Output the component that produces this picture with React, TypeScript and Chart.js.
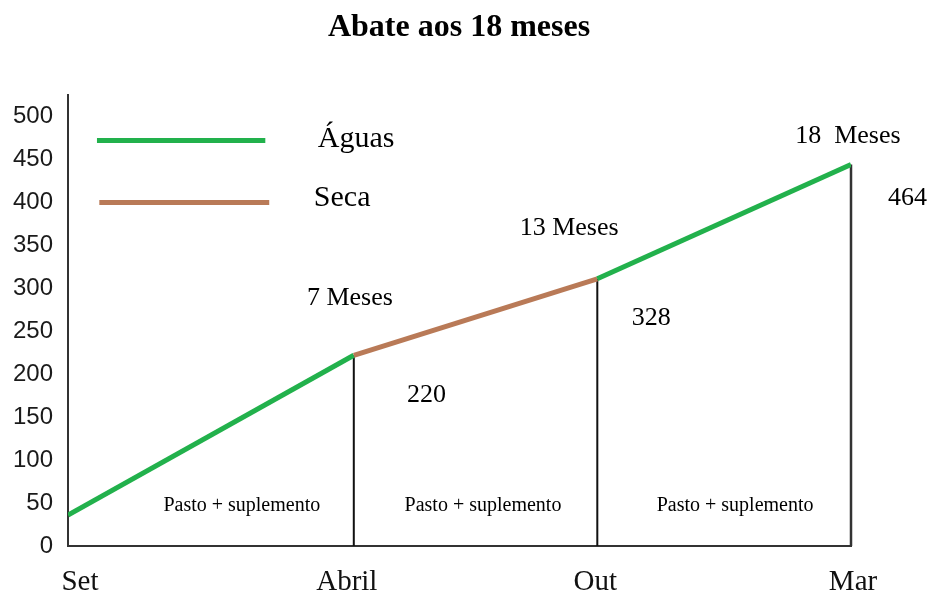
import React, { useEffect, useRef } from 'react';
import { Chart, registerables } from 'chart.js';

Chart.register(...registerables);

// ---- data ----
const categories = ['Set', 'Abril', 'Out', 'Mar'];
const xPositions = [0, 36.5, 67.6, 100]; // position of each month along the time axis
const weights = [36, 222, 311, 444];
const segmentSeasons = ['Águas', 'Seca', 'Águas'];
const yTicks = [0, 50, 100, 150, 200, 250, 300, 350, 400, 450, 500];
const seasonNames = ['Águas', 'Seca'];
const monthLabels = ['7 Meses', '13 Meses', '18  Meses'];
const weightLabels = ['220', '328', '464'];
const periodLabel = 'Pasto + suplemento';

// ---- styles / layout ----
const GREEN = '#22b14c';
const BROWN = '#b97a57';
const seasonColors: Record<string, string> = { 'Águas': GREEN, 'Seca': BROWN };
const SERIF = '"Liberation Serif", "Times New Roman", serif';
const SANS = '"Liberation Sans", Arial, sans-serif';
const TEXT_DY = 2; // visual centring nudge for serif text

// annotation anchors in data space
const monthLabelPos = [
  { x: 36.0, y: 291 },
  { x: 64.0, y: 372 },
  { x: 99.6, y: 479 },
];
const weightLabelPos = [
  { x: 45.8, y: 178 },
  { x: 74.5, y: 267 },
  { x: 107.2, y: 407 },
];
const periodLabelPos = [
  { x: 22.2, y: 49 },
  { x: 53.0, y: 49 },
  { x: 85.2, y: 49 },
];
const legendPos = [
  { x0: 3.7, x1: 25.2, y: 472, tx: 31.9, ty: 477, size: 30 },
  { x0: 4.0, x1: 25.7, y: 400, tx: 31.4, ty: 409, size: 30 },
];
const xLabelShift = [12, -7, -2, 2];

const annotationPlugin = {
  id: 'annotations',
  afterDatasetsDraw(chart: any) {
    const { ctx } = chart;
    const xs = chart.scales.x;
    const ys = chart.scales.y;
    const px = (v: number) => xs.getPixelForValue(v);
    const py = (v: number) => ys.getPixelForValue(v);
    ctx.save();
    ctx.fillStyle = '#000';
    // title
    ctx.font = `bold 32px ${SERIF}`;
    ctx.textAlign = 'center';
    ctx.textBaseline = 'middle';
    ctx.fillText('Abate aos 18 meses', 459, 28);

    ctx.font = `26px ${SERIF}`;
    monthLabels.forEach((t, i) => ctx.fillText(t, px(monthLabelPos[i].x), py(monthLabelPos[i].y) + TEXT_DY));
    weightLabels.forEach((t, i) => ctx.fillText(t, px(weightLabelPos[i].x), py(weightLabelPos[i].y) + TEXT_DY));
    ctx.font = `20px ${SERIF}`;
    periodLabelPos.forEach((p) => ctx.fillText(periodLabel, px(p.x), py(p.y) + TEXT_DY));

    // x category labels
    ctx.font = `29px ${SERIF}`;
    ctx.fillStyle = '#111';
    categories.forEach((c, i) => ctx.fillText(c, px(xPositions[i]) + xLabelShift[i], xs.top + 34 + TEXT_DY));
    ctx.fillStyle = '#000';

    // legend
    seasonNames.forEach((name, i) => {
      const l = legendPos[i];
      ctx.strokeStyle = seasonColors[name];
      ctx.lineWidth = 5;
      ctx.lineCap = 'butt';
      ctx.beginPath();
      ctx.moveTo(px(l.x0), py(l.y));
      ctx.lineTo(px(l.x1), py(l.y));
      ctx.stroke();
      ctx.font = `${l.size}px ${SERIF}`;
      ctx.textAlign = 'left';
      ctx.fillText(name, px(l.tx), py(l.ty) + 3);
    });
    ctx.restore();
  },
};

export default function App() {
  const ref = useRef<HTMLCanvasElement>(null);
  useEffect(() => {
    if (!ref.current) return;
    const points = xPositions.map((x, i) => ({ x, y: weights[i] }));
    const dropDatasets = xPositions.slice(1).map((x, k) => ({
      label: 'drop' + k,
      data: [
        { x, y: weights[k + 1] },
        { x, y: 0 },
      ],
      borderColor: k === xPositions.length - 2 ? '#333' : '#111',
      borderWidth: k === xPositions.length - 2 ? 2.5 : 2,
      pointRadius: 0,
      clip: false,
      order: 2,
    }));
    const chart = new Chart(ref.current, {
      type: 'line',
      data: {
        datasets: [
          {
            label: 'Peso',
            data: points,
            borderColor: GREEN,
            borderWidth: 5,
            pointRadius: 0,
            tension: 0,
            order: 1,
            segment: {
              borderColor: (c: any) => seasonColors[segmentSeasons[c.p0DataIndex]],
            },
          } as any,
          ...dropDatasets,
        ],
      },
      options: {
        animation: false,
        responsive: false,
        layout: { padding: { top: 95, left: 0, right: 79, bottom: 0 } },
        plugins: { legend: { display: false }, tooltip: { enabled: false }, title: { display: false } },
        scales: {
          x: {
            type: 'linear',
            min: xPositions[0],
            max: xPositions[xPositions.length - 1],
            grid: { display: false, drawTicks: false },
            border: { display: true, color: '#333', width: 2 },
            afterBuildTicks: (s: any) => {
              s.ticks = xPositions.map((v) => ({ value: v }));
            },
            afterFit: (s: any) => {
              s.height = 48;
            },
            ticks: { display: false },
          },
          y: {
            type: 'linear',
            min: 0,
            max: 525,
            grid: { display: false, drawTicks: false },
            border: { display: true, color: '#333', width: 2 },
            afterBuildTicks: (s: any) => {
              s.ticks = yTicks.map((v) => ({ value: v }));
            },
            afterFit: (s: any) => {
              s.width = 68;
            },
            ticks: {
              padding: 15,
              color: '#1a1a1a',
              font: { family: SANS, size: 24 },
            },
          },
        },
      },
      plugins: [annotationPlugin],
    });
    return () => chart.destroy();
  }, []);
  return (
    <div style={{ position: 'fixed', left: 0, top: 0, width: 930, height: 594, background: '#fff' }}>
      <canvas ref={ref} width={930} height={594} style={{ width: 930, height: 594, display: 'block' }} />
    </div>
  );
}
